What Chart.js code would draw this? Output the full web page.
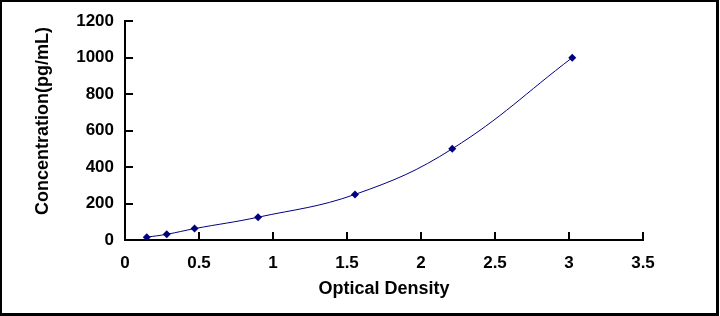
<!DOCTYPE html>
<html>
<head>
<meta charset="utf-8">
<script src="https://cdn.jsdelivr.net/npm/chart.js@4.4.0/dist/chart.umd.min.js"></script>
<style>
  html, body { margin: 0; padding: 0; background: #fff; }
  #wrap { position: relative; width: 720px; height: 316px; }
  canvas { display: block; }
</style>
</head>
<body>
<div id="wrap"><canvas id="c" width="720" height="316"></canvas></div>
<script>
// ---- data ----
const opticalDensity = [0.147, 0.282, 0.470, 0.899, 1.554, 2.211, 3.022];
const concentration = [15.6, 31.25, 62.5, 125, 250, 500, 1000];
const xTickLabels = ['0', '0.5', '1', '1.5', '2', '2.5', '3', '3.5'];
const yTickLabels = ['0', '200', '400', '600', '800', '1000', '1200'];
const xTitle = 'Optical Density';
const yTitle = 'Concentration(pg/mL)';

const FONT = '"Liberation Sans", Arial, sans-serif';
const NAVY = '#000080';

const points = opticalDensity.map((x, i) => ({ x: x, y: concentration[i] }));

const framePlugin = {
  id: 'frame',
  afterDraw(chart) {
    const ctx = chart.ctx;
    const area = chart.chartArea;
    const xs = chart.scales.x, ys = chart.scales.y;
    ctx.save();
    // inward tick marks
    ctx.strokeStyle = '#000';
    ctx.lineWidth = 2;
    ctx.beginPath();
    xs.ticks.forEach(t => {
      const px = Math.round(xs.getPixelForValue(t.value));
      ctx.moveTo(px, area.bottom);
      ctx.lineTo(px, area.bottom - 8);
    });
    ys.ticks.forEach(t => {
      const py = Math.round(ys.getPixelForValue(t.value));
      ctx.moveTo(area.left, py);
      ctx.lineTo(area.left + 8, py);
    });
    ctx.stroke();
    // axis titles
    ctx.fillStyle = '#000';
    ctx.font = 'bold 18px ' + FONT;
    ctx.textAlign = 'center';
    ctx.textBaseline = 'middle';
    ctx.fillText(xTitle, (area.left + area.right) / 2, 289);
    ctx.translate(43, 121);
    ctx.rotate(-Math.PI / 2);
    ctx.fillText(yTitle, 0, 0);
    ctx.restore();
    // outer frame
    ctx.save();
    ctx.fillStyle = '#000';
    ctx.fillRect(0, 0, 719, 2);
    ctx.fillRect(0, 0, 2, 316);
    ctx.fillRect(716, 0, 3, 316);
    ctx.fillRect(0, 313, 719, 3);
    ctx.restore();
  }
};

new Chart(document.getElementById('c'), {
  type: 'scatter',
  data: {
    datasets: [{
      data: points,
      showLine: true,
      borderColor: NAVY,
      borderWidth: 1,
      backgroundColor: NAVY,
      pointStyle: 'rectRot',
      pointRadius: 4,
      pointBorderWidth: 0,
      pointBackgroundColor: NAVY,
      tension: 0.4
    }]
  },
  options: {
    responsive: false,
    animation: false,
    devicePixelRatio: 1,
    layout: { padding: { left: 0, right: 77, top: 20, bottom: 0 } },
    plugins: { legend: { display: false }, tooltip: { enabled: false } },
    scales: {
      x: {
        type: 'linear',
        min: 0, max: 3.5,
        grid: { display: false, drawTicks: false },
        border: { display: true, color: '#000', width: 2 },
        ticks: {
          stepSize: 0.5,
          padding: 13,
          color: '#000',
          font: { family: FONT, size: 17, weight: 'bold' },
          callback: (v, i) => xTickLabels[i]
        },
        afterFit(s) { s.height = 76; }
      },
      y: {
        type: 'linear',
        min: 0, max: 1200,
        grid: { display: false, drawTicks: false },
        border: { display: true, color: '#000', width: 2 },
        ticks: {
          stepSize: 200,
          padding: 11,
          color: '#000',
          font: { family: FONT, size: 17, weight: 'bold' },
          callback: (v, i) => yTickLabels[i]
        },
        afterFit(s) { s.width = 125; }
      }
    }
  },
  plugins: [framePlugin]
});
</script>
</body>
</html>
